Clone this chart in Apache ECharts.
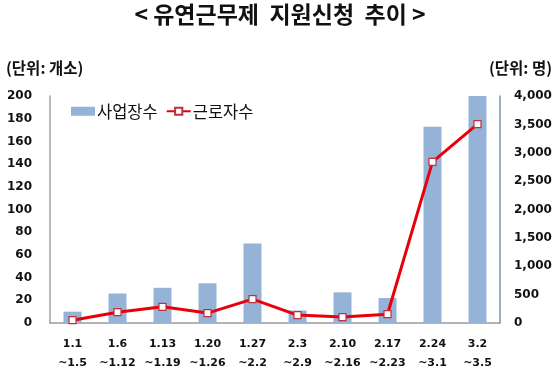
<!DOCTYPE html>
<html><head><meta charset="utf-8">
<script src="https://cdn.jsdelivr.net/npm/echarts@6/dist/echarts.min.js"></script>
<style>html,body{margin:0;padding:0;background:#fff}#c{width:560px;height:383px}</style>
</head><body><div id="c"></div>
<script>
const categories = ['1.1\n~1.5','1.6\n~1.12','1.13\n~1.19','1.20\n~1.26','1.27\n~2.2','2.3\n~2.9','2.10\n~2.16','2.17\n~2.23','2.24\n~3.1','3.2\n~3.5'];
const workplaces = [10, 26, 31, 35, 70, 11, 27, 22, 173, 200];
const workers = [50, 190, 285, 175, 420, 140, 105, 155, 2840, 3505];
const leftTicks = [0, 200, 20];
const rightTicks = [0, 4000, 500];
const chart = echarts.init(document.getElementById('c'));
const numFont = {fontFamily:'DejaVu Sans', fontWeight:'bold', fontSize:12, color:'#111'};
chart.setOption({
  animation:false,
  graphic:[
    {type:'text', left:'center', top:3, style:{text:'< 유연근무제  지원신청  추이 >', fontFamily:'Noto Sans CJK KR', fontWeight:'bold', fontSize:23, fill:'#111'}},
    {type:'text', left:6, top:60, style:{text:'(단위: 개소)', fontFamily:'Noto Sans CJK KR', fontWeight:'bold', fontSize:15.5, fill:'#111'}},
    {type:'text', right:8, top:60, style:{text:'(단위: 명)', fontFamily:'Noto Sans CJK KR', fontWeight:'bold', fontSize:15.5, fill:'#111'}}
  ],
  legend:{left:66, top:98, itemGap:8, itemWidth:24, itemHeight:9,
    textStyle:{fontFamily:'Noto Sans CJK KR', fontSize:16.5, color:'#111', padding:[0,0,0,-3]},
    data:[{name:'사업장수', icon:'rect'},{name:'근로자수'}]},
  grid:{left:50, right:60, top:96, bottom:60},
  xAxis:{type:'category', data:categories,
    axisLine:{lineStyle:{color:'#9a9a9a', width:1.5}}, axisTick:{show:false},
    axisLabel:Object.assign({}, numFont, {fontSize:11, interval:0, lineHeight:19, margin:12})},
  yAxis:[
    {type:'value', min:leftTicks[0], max:leftTicks[1], interval:leftTicks[2], splitLine:{show:false},
     axisLine:{show:true, lineStyle:{color:'#a0a0a0', width:1.5}}, axisTick:{show:false},
     axisLabel:Object.assign({}, numFont, {margin:18})},
    {type:'value', min:rightTicks[0], max:rightTicks[1], interval:rightTicks[2], splitLine:{show:false},
     axisLine:{show:true, lineStyle:{color:'#8093b0', width:1.5}}, axisTick:{show:false},
     axisLabel:Object.assign({}, numFont, {margin:14, formatter:v=>v.toLocaleString('en-US')})}
  ],
  series:[
    {name:'사업장수', type:'bar', data:workplaces, barWidth:18, itemStyle:{color:'#95b3d7'}},
    {name:'근로자수', type:'line', yAxisIndex:1, data:workers, symbol:'rect', symbolSize:7,
     lineStyle:{color:'#e8000c', width:3}, itemStyle:{color:'#ffffff', borderColor:'#c0303a', borderWidth:1.2}}
  ]
});
</script></body></html>
